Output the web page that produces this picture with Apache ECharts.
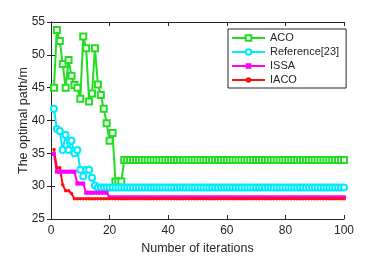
<!DOCTYPE html>
<html>
<head>
<meta charset="utf-8">
<script src="https://cdn.jsdelivr.net/npm/echarts@6/dist/echarts.min.js"></script>
<style>
html,body{margin:0;padding:0;background:#fff;}
#c{width:380px;height:261px;}
</style>
</head>
<body>
<div id="c"></div>
<script>
var iterations = [
1,2,3,4,5,6,7,8,9,10,11,12,13,14,15,16,17,18,19,20,
21,22,23,24,25,26,27,28,29,30,31,32,33,34,35,36,37,38,39,40,
41,42,43,44,45,46,47,48,49,50,51,52,53,54,55,56,57,58,59,60,
61,62,63,64,65,66,67,68,69,70,71,72,73,74,75,76,77,78,79,80,
81,82,83,84,85,86,87,88,89,90,91,92,93,94,95,96,97,98,99,100];

var acoValues = [
45.0,53.8,52.1,48.6,45.0,49.2,46.8,45.4,45.0,43.3,
52.8,51.0,42.9,44.1,51.0,45.5,43.9,41.8,39.6,36.9,
38.1,30.7,30.7,30.7,34.0,34.0,34.0,34.0,34.0,34.0,
34.0,34.0,34.0,34.0,34.0,34.0,34.0,34.0,34.0,34.0,
34.0,34.0,34.0,34.0,34.0,34.0,34.0,34.0,34.0,34.0,
34.0,34.0,34.0,34.0,34.0,34.0,34.0,34.0,34.0,34.0,
34.0,34.0,34.0,34.0,34.0,34.0,34.0,34.0,34.0,34.0,
34.0,34.0,34.0,34.0,34.0,34.0,34.0,34.0,34.0,34.0,
34.0,34.0,34.0,34.0,34.0,34.0,34.0,34.0,34.0,34.0,
34.0,34.0,34.0,34.0,34.0,34.0,34.0,34.0,34.0,34.0];

var refValues = [
41.8,38.7,38.4,35.5,37.8,35.5,36.9,35.0,35.5,32.5,
31.5,32.5,32.5,31.3,30.1,29.8,29.8,29.8,29.8,29.8,
29.8,29.8,29.8,29.8,29.8,29.8,29.8,29.8,29.8,29.8,
29.8,29.8,29.8,29.8,29.8,29.8,29.8,29.8,29.8,29.8,
29.8,29.8,29.8,29.8,29.8,29.8,29.8,29.8,29.8,29.8,
29.8,29.8,29.8,29.8,29.8,29.8,29.8,29.8,29.8,29.8,
29.8,29.8,29.8,29.8,29.8,29.8,29.8,29.8,29.8,29.8,
29.8,29.8,29.8,29.8,29.8,29.8,29.8,29.8,29.8,29.8,
29.8,29.8,29.8,29.8,29.8,29.8,29.8,29.8,29.8,29.8,
29.8,29.8,29.8,29.8,29.8,29.8,29.8,29.8,29.8,29.8];

var issaValues = [
34.9,32.2,32.2,32.2,32.2,32.2,32.2,32.2,30.4,30.4,
30.4,29.0,29.0,29.0,29.0,29.0,29.0,29.0,29.0,28.3,
28.3,28.3,28.3,28.3,28.3,28.3,28.3,28.3,28.3,28.3,
28.3,28.3,28.3,28.3,28.3,28.3,28.3,28.3,28.3,28.3,
28.3,28.3,28.3,28.3,28.3,28.3,28.3,28.3,28.3,28.3,
28.3,28.3,28.3,28.3,28.3,28.3,28.3,28.3,28.3,28.3,
28.3,28.3,28.3,28.3,28.3,28.3,28.3,28.3,28.3,28.3,
28.3,28.3,28.3,28.3,28.3,28.3,28.3,28.3,28.3,28.3,
28.3,28.3,28.3,28.3,28.3,28.3,28.3,28.3,28.3,28.3,
28.3,28.3,28.3,28.3,28.3,28.3,28.3,28.3,28.3,28.3];

var iacoValues = [
35.6,32.8,32.8,30.2,29.3,29.3,28.9,28.1,28.1,28.1,
28.1,28.1,28.1,28.1,28.1,28.1,28.1,28.1,28.1,28.1,
28.1,28.1,28.1,28.1,28.1,28.1,28.1,28.1,28.1,28.1,
28.1,28.1,28.1,28.1,28.1,28.1,28.1,28.1,28.1,28.1,
28.1,28.1,28.1,28.1,28.1,28.1,28.1,28.1,28.1,28.1,
28.1,28.1,28.1,28.1,28.1,28.1,28.1,28.1,28.1,28.1,
28.1,28.1,28.1,28.1,28.1,28.1,28.1,28.1,28.1,28.1,
28.1,28.1,28.1,28.1,28.1,28.1,28.1,28.1,28.1,28.1,
28.1,28.1,28.1,28.1,28.1,28.1,28.1,28.1,28.1,28.1,
28.1,28.1,28.1,28.1,28.1,28.1,28.1,28.1,28.1,28.1];

var seriesNames = ['ACO', 'Reference[23]', 'ISSA', 'IACO'];
var xTicks = [0, 20, 40, 60, 80, 100];
var yTicks = [25, 30, 35, 40, 45, 50, 55];

function pairs(vals) {
  return vals.map(function (v, i) { return [iterations[i], v]; });
}

var font = 'Liberation Sans, Arial, Helvetica, sans-serif';
var axisCol = '#262626';

function axisBase(extra) {
  var a = {
    type: 'value',
    axisLine: { show: true, lineStyle: { color: axisCol, width: 1 } },
    axisTick: { show: true, inside: true, length: 4, lineStyle: { color: axisCol } },
    splitLine: { show: false },
    axisLabel: { show: false }
  };
  for (var k in extra) a[k] = extra[k];
  return a;
}

var chart = echarts.init(document.getElementById('c'), null, { renderer: 'canvas' });
chart.setOption({
  backgroundColor: '#ffffff',
  animation: false,
  grid: { left: 51, right: 36, top: 22, bottom: 42, containLabel: false },
  xAxis: [
    axisBase({
      position: 'bottom', min: xTicks[0], max: xTicks[xTicks.length - 1], interval: 20,
      name: 'Number of iterations', nameLocation: 'middle', nameGap: 23, nameMoveOverlap: false,
      nameTextStyle: { color: axisCol, fontSize: 12.5, fontFamily: font },
      axisLabel: { show: true, color: axisCol, fontSize: 12, fontFamily: font, margin: 6 }
    }),
    axisBase({ position: 'top', min: xTicks[0], max: xTicks[xTicks.length - 1], interval: 20 })
  ],
  yAxis: [
    axisBase({
      position: 'left', min: yTicks[0], max: yTicks[yTicks.length - 1], interval: 5,
      name: 'The optimal path/m', nameLocation: 'middle', nameGap: 21, nameRotate: 90,
      nameMoveOverlap: false,
      nameTextStyle: { color: axisCol, fontSize: 12.5, fontFamily: font },
      axisLabel: { show: true, color: axisCol, fontSize: 12, fontFamily: font, margin: 6 }
    }),
    axisBase({ position: 'right', min: yTicks[0], max: yTicks[yTicks.length - 1], interval: 5 })
  ],
  legend: {
    orient: 'vertical',
    left: 228, top: 29,
    padding: [3, 7, 2, 3],
    itemWidth: 33, itemHeight: 7, itemGap: 2,
    borderColor: axisCol, borderWidth: 1,
    backgroundColor: '#ffffff',
    textStyle: { color: axisCol, fontSize: 11, fontFamily: font, lineHeight: 12 },
    data: seriesNames
  },
  series: [
    {
      name: seriesNames[0], type: 'line', data: pairs(acoValues),
      symbol: 'emptyRect', symbolSize: 6, showAllSymbol: true,
      lineStyle: { color: '#22dd22', width: 2 },
      itemStyle: { color: '#22dd22', borderWidth: 1.2 }
    },
    {
      name: seriesNames[1], type: 'line', data: pairs(refValues),
      symbol: 'emptyCircle', symbolSize: 6, showAllSymbol: true,
      lineStyle: { color: '#00eaff', width: 2 },
      itemStyle: { color: '#00eaff', borderWidth: 1.2 }
    },
    {
      name: seriesNames[2], type: 'line', data: pairs(issaValues),
      symbol: 'rect', symbolSize: 4, showAllSymbol: true,
      lineStyle: { color: '#ff00ff', width: 2 },
      itemStyle: { color: '#ff00ff' }
    },
    {
      name: seriesNames[3], type: 'line', data: pairs(iacoValues),
      symbol: 'circle', symbolSize: 3.5, showAllSymbol: true,
      lineStyle: { color: '#ff1010', width: 2 },
      itemStyle: { color: '#ff1010' }
    }
  ]
});
</script>
</body>
</html>
